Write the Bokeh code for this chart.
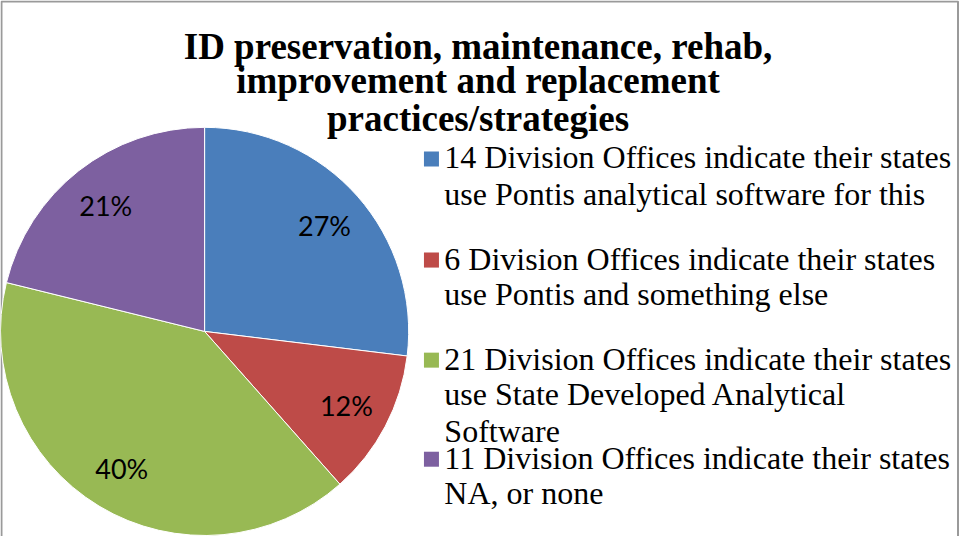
import math
from bokeh.plotting import figure
from bokeh.models import Range1d, ColumnDataSource
from bokeh.core.properties import value
from bokeh.embed import file_html
from bokeh.resources import INLINE

# ---- data ----
title_lines = ["ID preservation, maintenance, rehab,",
               "improvement and replacement",
               "practices/strategies"]
counts = [14, 6, 21, 11]
legend_lines = [
    ["14 Division Offices indicate their states", "use Pontis analytical software for this"],
    ["6 Division Offices indicate their states", "use Pontis and something else"],
    ["21 Division Offices indicate their states", "use State Developed Analytical", "Software"],
    ["11 Division Offices indicate their states", "NA, or none"],
]
colors = ["#4A7EBB", "#BE4B48", "#98B954", "#7D60A0"]

# ---- layout (reference pixel space; y measured from top of picture) ----
H = 552
def Y(ref_y):
    return H - ref_y

W_FIG, H_FIG = 959, 536
p = figure(width=W_FIG, height=H_FIG, output_backend="svg", toolbar_location=None,
           x_range=Range1d(3, 971), y_range=Range1d(Y(546), Y(5)),
           x_axis_location=None, y_axis_location=None, min_border=0,
           outline_line_color=None, background_fill_color="white",
           border_fill_color="white")
p.grid.visible = False

# frame border (top, left, right)
p.line(x=[4, 4, 969.5, 969.5], y=[Y(560), Y(6), Y(6), Y(560)],
       line_color="#9a9a9a", line_width=2)

# ---- pie ----
cx, cy, R = 209, Y(339), 206
total = sum(counts)
starts, ends, lx, ly, labels = [], [], [], [], []
cum = 0
for c in counts:
    a0 = math.pi / 2 - 2 * math.pi * cum / total
    a1 = math.pi / 2 - 2 * math.pi * (cum + c) / total
    starts.append(a0)
    ends.append(a1)
    mid = (a0 + a1) / 2
    lx.append(cx + 0.785 * R * math.cos(mid))
    ly.append(cy + 0.785 * R * math.sin(mid))
    labels.append(f"{round(100 * c / total)}%")
    cum += c

src = ColumnDataSource(dict(start=starts, end=ends, color=colors))
p.wedge(x=cx, y=cy, radius=R, start_angle="start", end_angle="end",
        direction="clock", fill_color="color", line_color="white",
        line_width=1, source=src)

p.text(x=lx, y=ly, text=labels, text_font=value("Lato"),
       text_font_size="27px", text_align="center", text_baseline="middle",
       text_color="black")

# ---- title ----
TFS = 37
title_base = [63.5, 98, 136]
p.text(x=[485] * len(title_lines), y=[Y(b - 0.33 * TFS) for b in title_base],
       text=title_lines, text_font=value("Liberation Serif"), text_font_style="bold",
       text_font_size=f"{TFS}px", text_align="center", text_baseline="middle",
       text_color="black")

# ---- legend ----
LFS = 32
entry_baselines = [[174, 211], [276, 312], [377, 413, 450], [477, 513]]
tx, ty, tt = [], [], []
sx, sy = [], []
for lines, bases, col in zip(legend_lines, entry_baselines, colors):
    for t, b in zip(lines, bases):
        tx.append(451)
        ty.append(Y(b - 0.33 * LFS))
        tt.append(t)
    sx.append(438)
    sy.append(Y(bases[0] - 9))

p.scatter(x=sx, y=sy, marker="square", size=15, fill_color=colors,
          line_color=None)
p.text(x=tx, y=ty, text=tt, text_font=value("Liberation Serif"),
       text_font_size=f"{LFS}px", text_align="left", text_baseline="middle",
       text_color="black")

open("out.html", "w").write(file_html(p, INLINE))
